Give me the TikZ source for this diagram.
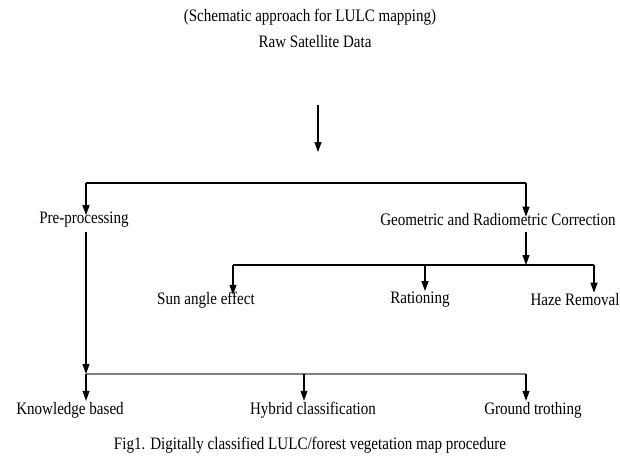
\documentclass[tikz,border=0pt]{standalone}
\usepackage{fontspec}
\setmainfont[FakeStretch=0.86]{Liberation Serif}
\usetikzlibrary{positioning,arrows.meta}

\begin{document}
\begin{tikzpicture}[x=1pt,y=-1pt,
  lbl/.style={font=\fontsize{17.5}{20}\selectfont, inner sep=1pt},
  arr/.style={draw=black, line width=1.1pt, -{Triangle[length=10pt,width=7pt]}},
  ln/.style={draw=black, line width=1.1pt},
  greyln/.style={draw=gray, line width=2.6pt}
]
\useasboundingbox (0,0) rectangle (620,464);

\node[lbl] (title) at (310,17) {(Schematic approach for LULC mapping)};
\node[lbl] (raw) at (315,42) {Raw Satellite Data};
\node[lbl] (pre) at (84,220) {Pre-processing};
\node[lbl] (geo) at (498,220) {Geometric and Radiometric Correction};
\node[lbl] (sun) at (206,300) {Sun angle effect};
\node[lbl] (rat) at (420,300) {Rationing};
\node[lbl] (haze) at (575,300) {Haze Removal};
\node[lbl] (know) at (70,410) {Knowledge based};
\node[lbl] (hyb) at (313,410) {Hybrid classification};
\node[lbl] (grd) at (533,410) {Ground trothing};
\node[lbl] (cap) at (310,445) {Fig1. Digitally classified LULC/forest vegetation map procedure};

\coordinate (s0) at (318,105);
\coordinate (s1) at (318,152);
\coordinate (t1) at (86,183);
\coordinate (t2) at (526,183);
\coordinate (g0) at (526,232);
\coordinate (g1) at (526,265);
\coordinate (u1) at (233,265);
\coordinate (u2) at (425,265);
\coordinate (u3) at (594,265);
\coordinate (p0) at (86,232);
\coordinate (k1) at (86,374);
\coordinate (k2) at (304,374);
\coordinate (k3) at (526,374);

\draw[arr] (s0) -- (s1);
\draw[ln] (t1) -- (t2);
\draw[arr] (t1) -- ([yshift=-4pt]t1 |- pre.north);
\draw[arr] (t2) -- ([yshift=-4pt]t2 |- geo.north);
\draw[arr] (g0) -- (g1);
\draw[ln] (u1) -- (u3);
\draw[arr] (u1) -- ([yshift=-4pt]u1 |- sun.north);
\draw[arr] (u2) -- (u2 |- rat.north);
\draw[arr] (u3) -- (u3 |- haze.north);
\draw[arr] (p0) -- (k1);
\draw[greyln] (k1) -- (k3);
\draw[arr] (k1) -- (k1 |- know.north);
\draw[arr] (k2) -- (k2 |- hyb.north);
\draw[arr] (k3) -- (k3 |- grd.north);

\end{tikzpicture}
\end{document}
